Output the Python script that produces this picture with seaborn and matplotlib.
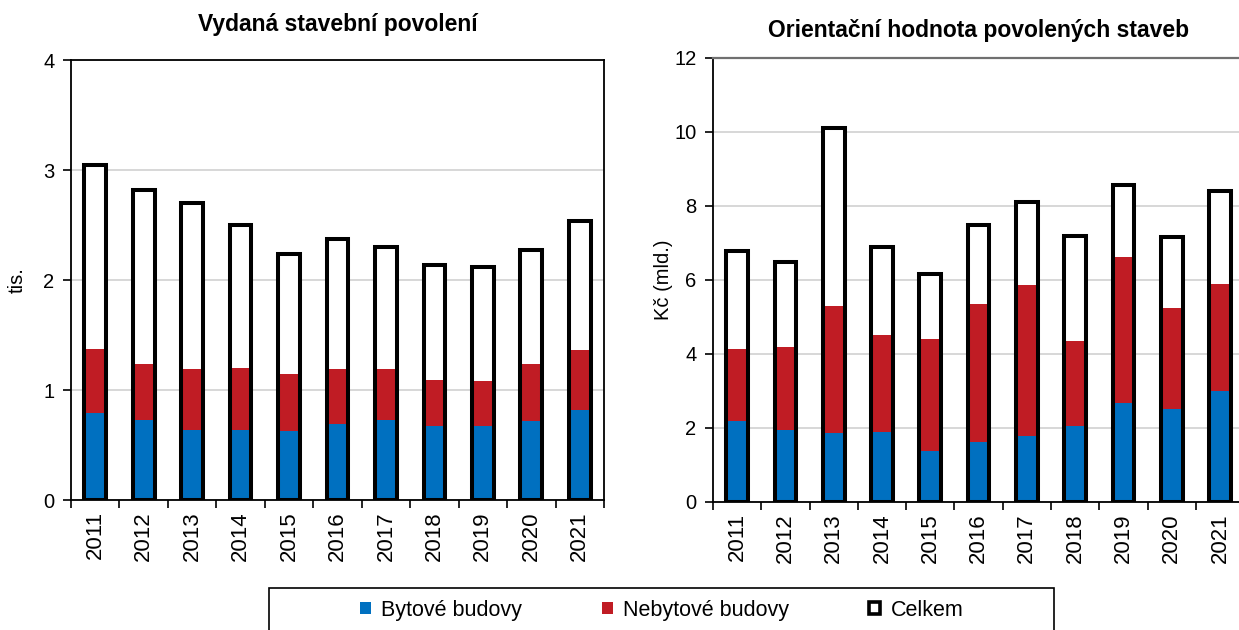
import numpy as np
import pandas as pd
import matplotlib.pyplot as plt
import seaborn as sns
from matplotlib.patches import Patch, Rectangle

years = [str(y) for y in range(2011, 2022)]

# Vydaná stavební povolení (tis.)
pov_bytove = [0.79, 0.73, 0.64, 0.64, 0.63, 0.69, 0.73, 0.67, 0.67, 0.72, 0.82]
pov_nebytove = [0.58, 0.51, 0.55, 0.56, 0.52, 0.50, 0.46, 0.42, 0.41, 0.52, 0.54]
pov_celkem = [3.05, 2.82, 2.70, 2.50, 2.24, 2.37, 2.30, 2.14, 2.12, 2.27, 2.54]

# Orientační hodnota povolených staveb (mld. Kč)
hod_bytove = [2.18, 1.95, 1.87, 1.90, 1.37, 1.61, 1.79, 2.04, 2.68, 2.51, 3.00]
hod_nebytove = [1.96, 2.23, 3.43, 2.60, 3.04, 3.74, 4.08, 2.30, 3.94, 2.73, 2.89]
hod_celkem = [6.78, 6.49, 10.12, 6.89, 6.15, 7.48, 8.12, 7.19, 8.57, 7.16, 8.41]

BLUE = "#0070C0"
RED = "#C01C24"
W = 0.45
EDGE = 2.9

sns.set_style("ticks")
plt.rcParams["font.family"] = ["Liberation Sans", "DejaVu Sans"]
plt.rcParams["text.color"] = "black"
plt.rcParams["axes.labelcolor"] = "black"
plt.rcParams["xtick.color"] = "black"
plt.rcParams["ytick.color"] = "black"

fig = plt.figure(figsize=(12.39, 6.30), dpi=100)
ax1 = fig.add_axes([0.0573, 0.2063, 0.4302, 0.6984])
ax2 = fig.add_axes([0.5755, 0.2032, 0.4286, 0.7048])


def draw_panel(ax, byt, nebyt, celk, ymax, step, title, ylabel, lpad, tpad):
    df = pd.DataFrame({"rok": years, "byt": byt,
                       "spolu": np.add(byt, nebyt), "celkem": celk})
    # white body of the total bar (hides gridlines)
    sns.barplot(data=df, x="rok", y="celkem", color="white", width=W,
                linewidth=0, errorbar=None, ax=ax, zorder=2)
    # stacked: nebytové on top of bytové
    sns.barplot(data=df, x="rok", y="spolu", color=RED, saturation=1,
                width=W, linewidth=0, errorbar=None, ax=ax, zorder=3)
    sns.barplot(data=df, x="rok", y="byt", color=BLUE, saturation=1,
                width=W, linewidth=0, errorbar=None, ax=ax, zorder=3)
    # black outline of Celkem
    sns.barplot(data=df, x="rok", y="celkem", color="black", fill=False,
                width=W, linewidth=EDGE, errorbar=None, ax=ax, zorder=4)

    ax.set_xlim(-0.5, len(years) - 0.5)
    ax.set_ylim(0, ymax)
    ax.set_yticks(np.arange(0, ymax + step / 2, step))
    ax.yaxis.grid(True, color="#d4d4d4", lw=1.3)
    ax.set_axisbelow(True)

    ax.set_xticks(np.arange(-0.5, len(years), 1), minor=True)
    ax.tick_params(axis="x", which="major", length=0, labelsize=16,
                   labelrotation=90, pad=8)
    ax.tick_params(axis="x", which="minor", length=6, width=1.2,
                   direction="out")
    ax.tick_params(axis="y", length=6, width=1.2, direction="out",
                   labelsize=14.5, pad=6)
    ax.set_xlabel("")
    ax.set_ylabel(ylabel, fontsize=14.5, labelpad=lpad)
    ax.set_title(title, fontsize=16.5, fontweight="bold", pad=tpad)
    for s in ax.spines.values():
        s.set_color("black")
        s.set_linewidth(1.3)


draw_panel(ax1, pov_bytove, pov_nebytove, pov_celkem, 4, 1,
           "Vydaná stavební povolení", "tis.", 12, 21)
draw_panel(ax2, hod_bytove, hod_nebytove, hod_celkem, 12, 2,
           "Orientační hodnota povolených staveb", "Kč (mld.)", 1, 15)
ax2.spines["top"].set_color("#707070")
ax2.spines["top"].set_linewidth(1.6)
ax2.spines["right"].set_visible(False)

# legend with its own frame
fig.patches.append(Rectangle((0.2171, -0.02), 0.6336, 0.0867,
                             transform=fig.transFigure, fill=False,
                             edgecolor="black", lw=1.2))
handles = [Patch(facecolor=BLUE, edgecolor="none"),
           Patch(facecolor=RED, edgecolor="none"),
           Patch(facecolor="white", edgecolor="black", lw=2.6)]
labels = ["Bytové budovy", "Nebytové budovy", "Celkem"]
fig.legend(handles, labels, loc="center", bbox_to_anchor=(0.534, 0.031),
           ncol=3, frameon=False, fontsize=15.5, handlelength=0.5,
           handleheight=0.5, handletextpad=0.5, columnspacing=3.7)

fig.savefig("out.png", dpi=100)
